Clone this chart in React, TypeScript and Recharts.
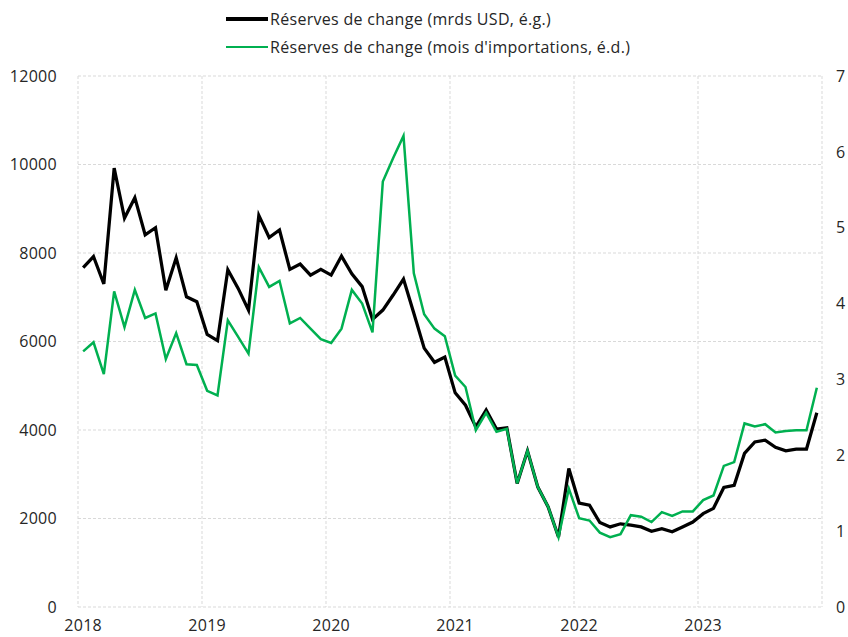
import React from 'react';
import { LineChart, Line, XAxis, YAxis, CartesianGrid, Legend } from 'recharts';

const years = ['2018', '2019', '2020', '2021', '2022', '2023'];

// monthly, Jan 2018 .. Dec 2023
const reservesUsd = [
  7670, 7920, 7300, 9920, 8790, 9250, 8410, 8570, 7160, 7890, 7010, 6900,
  6160, 6020, 7620, 7200, 6710, 8850, 8350, 8520, 7630, 7750, 7500, 7630,
  7500, 7930, 7530, 7240, 6500, 6710, 7050, 7410, 6640, 5850, 5530, 5650,
  4840, 4560, 4070, 4450, 4020, 4050, 2790, 3530, 2710, 2260, 1580, 3130,
  2350, 2300, 1910, 1810, 1880, 1850, 1810, 1710, 1770, 1700, 1810, 1920,
  2110, 2230, 2700, 2750, 3470, 3730, 3770, 3610, 3530, 3570, 3570, 4390,
];

const reservesMonths = [
  3.37, 3.49, 3.07, 4.16, 3.69, 4.18, 3.81, 3.87, 3.27, 3.61, 3.2, 3.19,
  2.85, 2.79, 3.78, 3.56, 3.34, 4.48, 4.22, 4.3, 3.74, 3.81, 3.67, 3.53,
  3.48, 3.67, 4.18, 4.0, 3.62, 5.61, 5.92, 6.21, 4.4, 3.86, 3.67, 3.57,
  3.05, 2.9, 2.33, 2.56, 2.31, 2.35, 1.63, 2.06, 1.58, 1.32, 0.92, 1.56,
  1.17, 1.14, 0.98, 0.92, 0.96, 1.21, 1.19, 1.12, 1.25, 1.2, 1.26, 1.26,
  1.41, 1.47, 1.86, 1.91, 2.42, 2.38, 2.41, 2.3, 2.32, 2.33, 2.33, 2.89,
];

const leftTicks = [0, 2000, 4000, 6000, 8000, 10000, 12000];
const rightTicks = [0, 1, 2, 3, 4, 5, 6, 7];

const data = reservesUsd.map((v, i) => ({
  x: i + 0.5,
  usd: v,
  mois: reservesMonths[i],
}));

const yearTicks = years.map((_, k) => k * 12 + 0.5);

const FONT = '"Open Sans", sans-serif';
const GREEN = '#00b050';
const TEXT = '#262626';
const tickStyle = { fill: TEXT, fontSize: 16, fontFamily: FONT, letterSpacing: 0.3 };

const legendItems = [
  { label: 'Réserves de change (mrds USD, é.g.)', color: '#000000', width: 3.5 },
  { label: "Réserves de change (mois d'importations, é.d.)", color: GREEN, width: 2.75 },
];

const LegendBox = () => (
  <div style={{ position: 'absolute', left: 226, top: 5, fontFamily: FONT, fontSize: 16, letterSpacing: 0.3, color: TEXT }}>
    {legendItems.map((it) => (
      <div key={it.label} style={{ display: 'flex', alignItems: 'center', height: 28 }}>
        <div style={{ width: 42, height: it.width, background: it.color, marginRight: 2 }} />
        <span>{it.label}</span>
      </div>
    ))}
  </div>
);

export default function App() {
  return (
    <div style={{ position: 'absolute', left: 0, top: 0, width: 848, height: 637, background: '#fff' }}>
      <LineChart width={848} height={637} data={data} margin={{ top: 76, right: 0, bottom: 0, left: 0 }}>
        <CartesianGrid
          stroke="#d9d9d9"
          strokeDasharray="3 2"
          verticalCoordinatesGenerator={({ offset }: any) =>
            [0, 1, 2, 3, 4, 5, 6].map((k) => offset.left + (k * offset.width) / 6)
          }
          yAxisId="left"
        />
        <XAxis
          dataKey="x"
          type="number"
          domain={[0, 72]}
          ticks={yearTicks}
          tickFormatter={(v: number) => years[Math.floor(v / 12)]}
          axisLine={false}
          tickLine={false}
          tickMargin={7}
          height={30}
          tick={tickStyle}
          interval={0}
        />
        <YAxis
          yAxisId="left"
          domain={[0, 12000]}
          ticks={leftTicks}
          axisLine={false}
          tickLine={false}
          tickMargin={15}
          width={78}
          tick={tickStyle}
        />
        <YAxis
          yAxisId="right"
          orientation="right"
          domain={[0, 7]}
          ticks={rightTicks}
          axisLine={false}
          tickLine={false}
          tickMargin={8}
          width={26}
          tick={{ ...tickStyle, textAnchor: 'start' }}
        />
        <Legend layout="horizontal" verticalAlign="middle" align="center" wrapperStyle={{ top: 0, left: 0, width: 848, height: 70 }} content={() => <LegendBox />} />
        <Line yAxisId="left" dataKey="usd" stroke="#000000" strokeWidth={3.25} dot={false} isAnimationActive={false} strokeLinejoin="miter" />
        <Line yAxisId="right" dataKey="mois" stroke={GREEN} strokeWidth={2.5} dot={false} isAnimationActive={false} strokeLinejoin="miter" />
      </LineChart>
    </div>
  );
}
